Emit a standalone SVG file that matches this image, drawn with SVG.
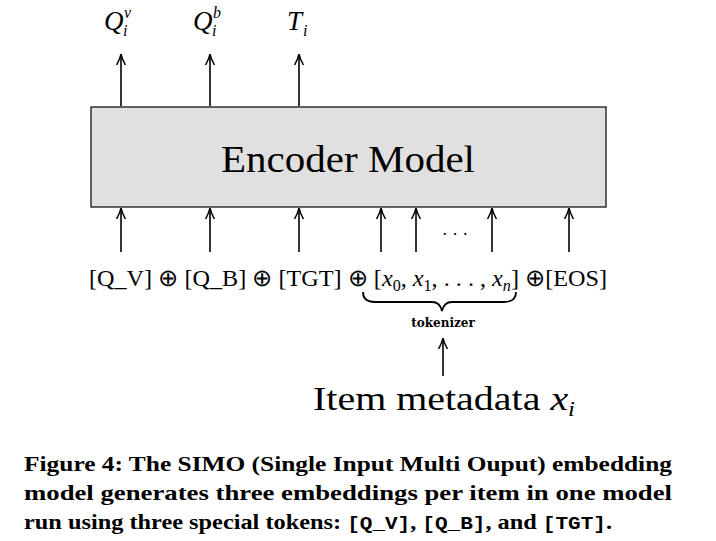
<svg xmlns="http://www.w3.org/2000/svg" width="716" height="541" viewBox="0 0 716 541">
<style>
.s{font-family:"DejaVu Serif","Liberation Serif",serif;fill:#000}
.m{font-family:"Liberation Serif",serif;fill:#000}
.i{font-style:italic}
.a{stroke:#000;stroke-width:1.6;fill:none;marker-end:url(#ah)}
.c{font-family:"Liberation Serif",serif;font-weight:bold;font-size:22px;fill:#000}
</style>
<defs><marker id="ah" viewBox="0 0 10 10" refX="9" refY="5" markerWidth="7" markerHeight="7" orient="auto"><path d="M0,1 Q5,4 10,5 Q5,6 0,9" fill="none" stroke="#000" stroke-width="1.3"/></marker></defs>
<rect width="716" height="541" fill="#fff"/>
<g id="outputs">
<text class="m i" x="104" y="30" font-size="27">Q</text><text class="m i" x="124" y="18" font-size="16">v</text><text class="m i" x="123" y="36" font-size="16">i</text>
<text class="m i" x="193" y="30" font-size="27">Q</text><text class="m i" x="213" y="18" font-size="16">b</text><text class="m i" x="212" y="36" font-size="16">i</text>
<text class="m i" x="287" y="30" font-size="27">T</text><text class="m i" x="303" y="36" font-size="16">i</text>
</g>
<g id="encoder">
<rect x="91" y="107" width="515" height="100" fill="#e0e0e0" stroke="#000" stroke-width="1.2"/>
<text class="m" x="348" y="172" font-size="38" text-anchor="middle" textLength="254" lengthAdjust="spacingAndGlyphs">Encoder Model</text>
</g>
<g id="tokens">
<text class="m" x="89" y="286" font-size="24" textLength="518" lengthAdjust="spacingAndGlyphs">[Q_V] ⊕ [Q_B] ⊕ [TGT] ⊕ [<tspan class="i">x</tspan><tspan font-size="16" dy="5">0</tspan><tspan dy="-5">, </tspan><tspan class="i">x</tspan><tspan font-size="16" dy="5">1</tspan><tspan dy="-5">, . . . , </tspan><tspan class="i">x</tspan><tspan font-size="16" class="i" dy="5">n</tspan><tspan dy="-5">] ⊕[EOS]</tspan></text>
<text class="s" x="455" y="240" font-size="16" text-anchor="middle">· · ·</text>
<path d="M363,292 Q363,302 375,302 L432,302 Q440,302 442,311 Q444,302 452,302 L504,302 Q516,302 516,292" fill="none" stroke="#000" stroke-width="1.8"/>
<text class="s" x="443" y="327" font-size="12" font-weight="bold" text-anchor="middle">tokenizer</text>
</g>
<g id="metadata">
<text class="m" x="313" y="410" font-size="34" textLength="262" lengthAdjust="spacingAndGlyphs">Item metadata <tspan class="i">x</tspan><tspan class="i" font-size="21" dy="6">i</tspan></text>
</g>
<g id="connectors">
<path class="a" d="M121,106 V55"/><path class="a" d="M210,106 V55"/><path class="a" d="M299,106 V55"/>
<path class="a" d="M121,252 V209"/><path class="a" d="M210,252 V209"/><path class="a" d="M299,252 V209"/>
<path class="a" d="M381,252 V209"/><path class="a" d="M416,252 V209"/><path class="a" d="M492,252 V209"/><path class="a" d="M569,252 V209"/>
<path class="a" d="M443,376 V339"/>
</g>
<g id="caption">
<text class="c" x="24" y="471" textLength="648" lengthAdjust="spacingAndGlyphs">Figure 4: The SIMO (Single Input Multi Ouput) embedding</text>
<text class="c" x="24" y="500" textLength="648" lengthAdjust="spacingAndGlyphs">model generates three embeddings per item in one model</text>
<text class="c" x="24" y="529" textLength="588" lengthAdjust="spacingAndGlyphs">run using three special tokens: <tspan font-family="Liberation Mono,monospace" font-size="19">[Q_V]</tspan>, <tspan font-family="Liberation Mono,monospace" font-size="19">[Q_B]</tspan>, and <tspan font-family="Liberation Mono,monospace" font-size="19">[TGT]</tspan>.</text>
</g>
</svg>
